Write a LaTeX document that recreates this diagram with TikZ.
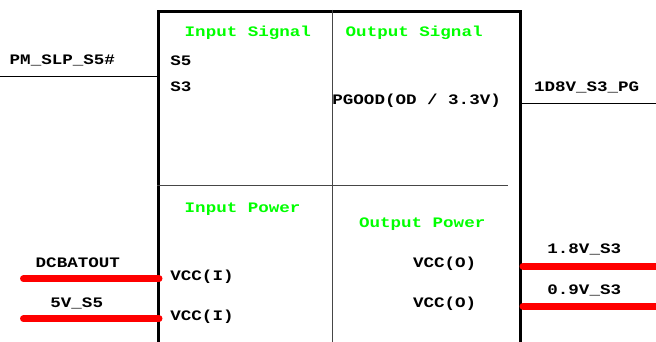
\documentclass[tikz,border=0pt]{standalone}
\usepackage{fontspec}
\newfontfamily\lab[FakeStretch=1.21]{Liberation Mono Bold}
\definecolor{lime}{RGB}{0,255,0}
\definecolor{wire}{RGB}{255,0,0}
\definecolor{divgray}{RGB}{70,70,70}
\begin{document}
\begin{tikzpicture}[x=1pt,y=-1pt,
  txt/.style={anchor=base west, inner sep=0pt, font=\lab\fontsize{14.5}{14.5}\selectfont},
  head/.style={txt, text=lime},
  sig/.style={line width=1pt, black},
  pwr/.style={line width=7pt, wire, line cap=round},
  div/.style={line width=1pt, divgray}]
\useasboundingbox (0,0) rectangle (656,342);
% main block
\node[draw, line width=3pt, minimum width=362pt, minimum height=360pt, anchor=north west, inner sep=0pt] (box) at (157,10) {};
\coordinate (vtop) at (332,10);
\coordinate (vbot) at (332,342);
\coordinate (hl) at (157,185);
\coordinate (hr) at (508,185);
\draw[div] (vtop) -- (vbot);
\draw[div] (hl) -- (hr);
% headings
\node[head] (insig) at (184.5,37) {Input Signal};
\node[head] (outsig) at (345.5,37) {Output Signal};
\node[head] (inpwr) at (184.5,212.5) {Input Power};
\node[head] (outpwr) at (358.8,227) {Output Power};
% inner labels
\node[txt] (s5) at (170.2,65.3) {S5};
\node[txt] (s3) at (170.2,91.7) {S3};
\node[txt] (pgood) at (332.2,105) {PGOOD(OD / 3.3V)};
\node[txt] (vi1) at (170.2,280.3) {VCC(I)};
\node[txt] (vi2) at (170.2,320.3) {VCC(I)};
\node[txt] (vo1) at (412.8,267.3) {VCC(O)};
\node[txt] (vo2) at (412.8,307.3) {VCC(O)};
% outer labels
\node[txt] (pmslp) at (9.5,65) {PM\_SLP\_S5\#};
\node[txt] (pg) at (533.8,91.7) {1D8V\_S3\_PG};
\node[txt] (dcbat) at (35.5,267.7) {DCBATOUT};
\node[txt] (v5) at (50.2,307) {5V\_S5};
\node[txt] (v18) at (547.2,253.3) {1.8V\_S3};
\node[txt] (v09) at (547.2,294) {0.9V\_S3};
% signal wires
\coordinate (pmend) at (0,77);
\coordinate (pgend) at (656,104);
\draw[sig] (pmend) -- (pmend -| box.west);
\draw[sig] (pgend) -- (pgend -| box.east);
% power wires
\coordinate (dcend) at (23.5,278.7);
\coordinate (v5end) at (23.5,318.7);
\coordinate (v18end) at (660,266);
\coordinate (v09end) at (660,306);
\draw[pwr] (dcend) -- ([xshift=2pt]dcend -| box.west);
\draw[pwr] (v5end) -- ([xshift=2pt]v5end -| box.west);
\draw[pwr] (v18end) -- ([xshift=1pt]v18end -| box.east);
\draw[pwr] (v09end) -- ([xshift=1pt]v09end -| box.east);
\end{tikzpicture}
\end{document}
